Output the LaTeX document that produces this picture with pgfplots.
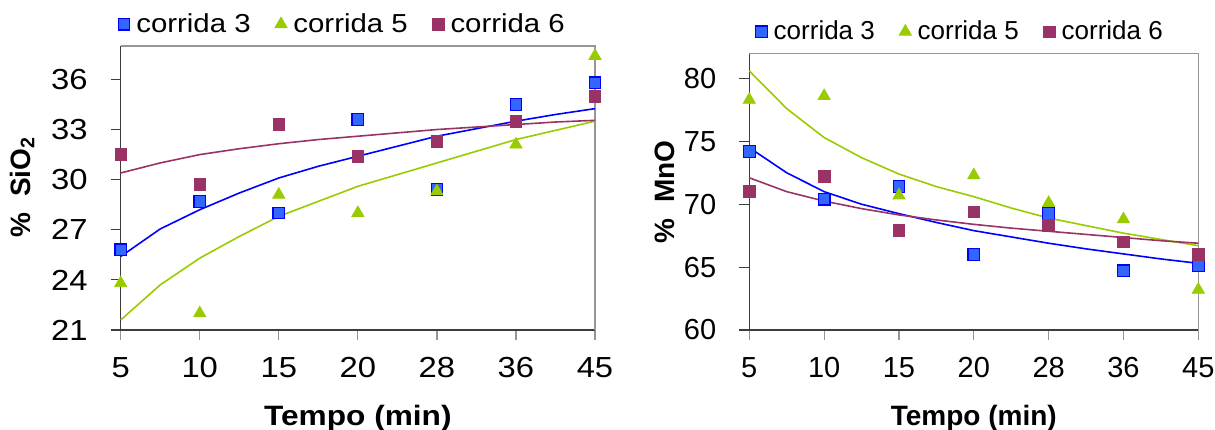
\documentclass[border=0pt]{standalone}
\usepackage{fontspec}
\setmainfont{Liberation Sans}
\newfontfamily\widefont{Liberation Sans}[FakeStretch=1.13]
\usepackage{pgfplots}
\pgfplotsset{compat=1.18}

\definecolor{c3fill}{RGB}{51,102,255}
\definecolor{c3line}{RGB}{0,0,255}
\definecolor{c5}{RGB}{153,204,0}
\definecolor{c6}{RGB}{153,51,102}
\definecolor{axdark}{RGB}{60,60,60}
\definecolor{axgray}{RGB}{150,150,150}

% Excel-like look shared by both panels
\pgfplotsset{
  excelstyle/.style={
    scale only axis,
    axis x line*=bottom, axis y line*=left,
    axis line style={-, axdark, line width=0.7pt},
    xmin=1, xmax=7,
    xtick={1,...,7},
    xticklabels={5,10,15,20,28,36,45},
    tick align=outside,
    major tick length=5pt,
    xtick style={axgray, line width=0.6pt},
    ytick style={axdark, line width=0.6pt},
    clip=false,
    /pgf/number format/assume math mode=true,
    xticklabel style={font=\fontsize{14.5}{16}\selectfont, yshift=-5pt},
    yticklabel style={font=\fontsize{14.5}{16}\selectfont, xshift=-8pt},
    label style={font=\fontsize{14}{16}\selectfont\bfseries},
    xlabel style={at={(axis description cs:0.5,0)}, anchor=base, yshift=-47.5pt},
    legend columns=3,
    legend style={draw=none, fill=none, anchor=center,
      font=\fontsize{13}{15}\selectfont,
      /tikz/every even column/.append style={column sep=9pt}},
    legend image code/.code={\path (-4pt,0) (4pt,0); \draw[##1] plot coordinates {(0pt,0pt)};},
  },
  sq3/.style={only marks, mark=square*, mark size=2.9pt, mark options={fill=c3fill, draw=c3line, line width=0.6pt}},
  tr5/.style={only marks, mark=triangle*, mark size=3.5pt, mark options={fill=c5, draw=c5}},
  sq6/.style={only marks, mark=square*, mark size=2.9pt, mark options={fill=c6, draw=c6}},
}

\begin{document}
\begin{tikzpicture}
\useasboundingbox (0,0) rectangle (607.5pt,214.5pt);

% left panel: SiO2 (its texts are set a little wider, as in the reference)
\begin{axis}[excelstyle,
  at={(60.35pt,49.5pt)}, anchor=south west,
  width=237.15pt, height=142pt,
  ymin=21, ymax=38,
  ytick={21,24,27,30,33,36},
  xticklabel style={font=\widefont\fontsize{14.5}{16}\selectfont},
  yticklabel style={font=\widefont\fontsize{14.5}{16}\selectfont},
  xlabel style={font=\widefont\fontsize{14}{16}\selectfont\bfseries},
  legend style={at={(0.467,1.077)}, font=\widefont\fontsize{13}{15}\selectfont},
  xlabel={Tempo (min)},
  ylabel={\%\ \ SiO\textsubscript{2}},
  ylabel style={at={(axis description cs:-0.208,0.504)}, anchor=center},
]
\draw[axgray, line width=0.7pt] (rel axis cs:0,1) -- (rel axis cs:1,1) -- (rel axis cs:1,0);
\addplot[c3line, line width=0.8pt, forget plot] coordinates {(1,25.4) (1.5,27.05) (2,28.2) (2.5,29.2) (3,30.1) (3.5,30.8) (4,31.4) (4.5,32.0) (5,32.6) (5.5,33.05) (6,33.5) (6.5,33.9) (7,34.25)};
\addplot[c5, line width=0.8pt, forget plot] coordinates {(1,21.6) (1.5,23.7) (2,25.3) (2.5,26.6) (3,27.8) (3.5,28.7) (4,29.6) (4.5,30.3) (5,31.0) (5.5,31.7) (6,32.4) (6.5,32.95) (7,33.5)};
\addplot[c6, line width=0.8pt, forget plot] coordinates {(1,30.4) (1.5,31.0) (2,31.5) (2.5,31.85) (3,32.15) (3.5,32.4) (4,32.6) (4.5,32.8) (5,33.0) (5.5,33.15) (6,33.3) (6.5,33.45) (7,33.55)};
\addplot[sq3] coordinates {(1,25.8) (2,28.7) (3,28.0) (4,33.6) (5,29.4) (6,34.5) (7,35.8)};
\addplot[tr5] coordinates {(1,23.8) (2,22.0) (3,29.1) (4,28.0) (5,29.3) (6,32.1) (7,37.4)};
\addplot[sq6] coordinates {(1,31.5) (2,29.7) (3,33.3) (4,31.4) (5,32.3) (6,33.5) (7,35.0)};
\legend{corrida 3,corrida 5,corrida 6}
\end{axis}

% right panel: MnO
\begin{axis}[excelstyle,
  at={(374.65pt,49.5pt)}, anchor=south west,
  width=224.5pt, height=138.35pt,
  ymin=60, ymax=82,
  ytick={60,65,70,75,80},
  xlabel={Tempo (min)},
  ylabel={\%\ \ MnO},
  ylabel style={at={(axis description cs:-0.188,0.499)}, anchor=center},
  legend style={at={(0.469,1.078)}},
]
\draw[axgray, line width=0.7pt] (rel axis cs:0,1) -- (rel axis cs:1,1) -- (rel axis cs:1,0);
\addplot[c3line, line width=0.8pt, forget plot] coordinates {(1,74.5) (1.5,72.5) (2,71.0) (2.5,70.0) (3,69.25) (3.5,68.55) (4,67.9) (4.5,67.4) (5,66.9) (5.5,66.45) (6,66.05) (6.5,65.65) (7,65.3)};
\addplot[c5, line width=0.8pt, forget plot] coordinates {(1,80.6) (1.5,77.6) (2,75.3) (2.5,73.7) (3,72.4) (3.5,71.4) (4,70.6) (4.5,69.7) (5,68.9) (5.5,68.3) (6,67.7) (6.5,67.2) (7,66.7)};
\addplot[c6, line width=0.8pt, forget plot] coordinates {(1,72.1) (1.5,71.0) (2,70.25) (2.5,69.65) (3,69.15) (3.5,68.75) (4,68.4) (4.5,68.1) (5,67.85) (5.5,67.6) (6,67.35) (6.5,67.1) (7,66.9)};
\addplot[sq3] coordinates {(1,74.2) (2,70.4) (3,71.4) (4,66.0) (5,69.25) (6,64.7) (7,65.1)};
\addplot[tr5] coordinates {(1,78.3) (2,78.6) (3,70.7) (4,72.3) (5,70.1) (6,68.8) (7,63.2)};
\addplot[sq6] coordinates {(1,71.0) (2,72.2) (3,67.9) (4,69.4) (5,68.3) (6,67.0) (7,66.0)};
\legend{corrida 3,corrida 5,corrida 6}
\end{axis}
\end{tikzpicture}
\end{document}
